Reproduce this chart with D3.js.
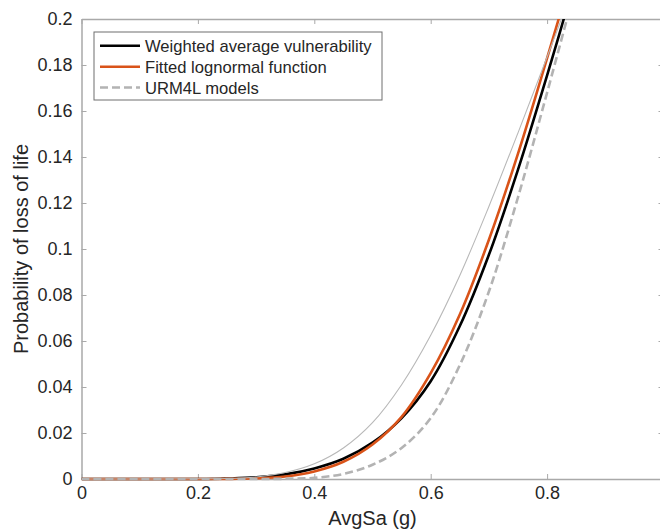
<!DOCTYPE html>
<html>
<head>
<meta charset="utf-8">
<script src="https://cdn.jsdelivr.net/npm/d3@7"></script>
<style>
  html, body { margin: 0; padding: 0; background: #fff; }
  svg { display: block; font-family: Helvetica, Arial, "Liberation Sans", sans-serif; }
</style>
</head>
<body>
<svg id="chart" width="660" height="530"></svg>
<script>
// Spectral acceleration grid (g)
const avgSa = [0, 0.1, 0.2, 0.25, 0.3, 0.35, 0.4, 0.45, 0.5, 0.55, 0.6, 0.65, 0.7, 0.75, 0.8, 0.85];

// Probability of loss of life for each curve
const weightedAvg     = [0, 0, 0, 0.0002, 0.0007, 0.0020, 0.0046, 0.0088, 0.0158, 0.0265, 0.0425, 0.0665, 0.0975, 0.1345, 0.1755, 0.2185];
const fittedLognormal = [0, 0, 0, 0.00005, 0.0003, 0.0011, 0.0033, 0.0075, 0.0150, 0.0270, 0.0460, 0.0715, 0.1040, 0.1415, 0.1830, 0.2260];
const urmModelA       = [0, 0, 0.0001, 0.0002, 0.0009, 0.0028, 0.0066, 0.0135, 0.0245, 0.0410, 0.0625, 0.0885, 0.1185, 0.1505, 0.1835, 0.2170];
const urmModelB       = [0, 0, 0, 0, 0, 0.0001, 0.0005, 0.0022, 0.0062, 0.0135, 0.0265, 0.0495, 0.0815, 0.1225, 0.1680, 0.2150];

const xTicks = [0, 0.2, 0.4, 0.6, 0.8];
const xTickLabels = ["0", "0.2", "0.4", "0.6", "0.8"];
const yTicks = [0, 0.02, 0.04, 0.06, 0.08, 0.1, 0.12, 0.14, 0.16, 0.18, 0.2];
const yTickLabels = ["0", "0.02", "0.04", "0.06", "0.08", "0.1", "0.12", "0.14", "0.16", "0.18", "0.2"];

const legendLabels = ["Weighted average vulnerability", "Fitted lognormal function", "URM4L models"];

const svg = d3.select("#chart");
const plotLeft = 81.5, plotRight = 663.5, plotTop = 19, plotBottom = 479;

const x = d3.scaleLinear().domain([0, 1]).range([plotLeft, plotRight]);
const y = d3.scaleLinear().domain([0, 0.2]).range([plotBottom, plotTop]);

const axisColor = "#a9a9a9";
const textColor = "#262626";

// Axes (ticks point inward on all four sides), drawn beneath the data
function styleAxis(g) {
  g.select(".domain").attr("stroke", axisColor).attr("stroke-width", 1.5);
  g.selectAll(".tick line").attr("stroke", axisColor).attr("stroke-width", 1);
  g.selectAll(".tick text").attr("fill", textColor).attr("font-size", 18)
    .attr("font-family", "Helvetica, Arial, 'Liberation Sans', sans-serif");
}

svg.append("g").attr("transform", `translate(0,${plotBottom})`)
  .call(d3.axisBottom(x).tickValues(xTicks).tickFormat((d, i) => xTickLabels[i]).tickSizeInner(-5).tickSizeOuter(0).tickPadding(7))
  .call(styleAxis);

svg.append("g").attr("transform", `translate(0,${plotTop})`)
  .call(d3.axisTop(x).tickValues(xTicks).tickFormat("").tickSizeInner(-5).tickSizeOuter(0))
  .call(styleAxis);

svg.append("g").attr("transform", `translate(${plotLeft},0)`)
  .call(d3.axisLeft(y).tickValues(yTicks).tickFormat((d, i) => yTickLabels[i]).tickSizeInner(-5).tickSizeOuter(0).tickPadding(9))
  .call(styleAxis);

svg.append("g").attr("transform", `translate(${plotRight},0)`)
  .call(d3.axisRight(y).tickValues(yTicks).tickFormat("").tickSizeInner(-5).tickSizeOuter(0))
  .call(styleAxis);

// Clip region for data lines
svg.append("defs").append("clipPath").attr("id", "plotClip")
  .append("rect").attr("x", plotLeft).attr("y", plotTop)
  .attr("width", plotRight - plotLeft).attr("height", plotBottom - plotTop + 4);

const line = d3.line()
  .x(d => x(d[0]))
  .y(d => y(Math.max(0, d[1])))
  .curve(d3.curveCatmullRom.alpha(0.5));

const series = [
  { values: weightedAvg, color: "#000000", width: 2.6, dash: null },
  { values: fittedLognormal, color: "#D95319", width: 2.6, dash: null },
  { values: urmModelA, color: "#b8b8b8", width: 1.1, dash: null },
  { values: urmModelB, color: "#b3b3b3", width: 2.6, dash: "8,4" }
];

const plot = svg.append("g").attr("clip-path", "url(#plotClip)");
series.forEach(s => {
  plot.append("path")
    .datum(avgSa.map((v, i) => [v, s.values[i]]))
    .attr("d", line)
    .attr("fill", "none")
    .attr("stroke", s.color)
    .attr("stroke-width", s.width)
    .attr("stroke-dasharray", s.dash);
});

// Axis titles
svg.append("text")
  .attr("x", (plotLeft + plotRight) / 2).attr("y", 525)
  .attr("text-anchor", "middle").attr("font-size", 20).attr("fill", textColor)
  .text("AvgSa (g)");

svg.append("text")
  .attr("transform", `translate(28,${(plotTop + plotBottom) / 2}) rotate(-90)`)
  .attr("text-anchor", "middle").attr("font-size", 20).attr("fill", textColor)
  .text("Probability of loss of life");

// Legend
const lg = svg.append("g");
lg.append("rect")
  .attr("x", 94).attr("y", 32).attr("width", 288).attr("height", 68)
  .attr("fill", "#fff").attr("stroke", "#6e6e6e").attr("stroke-width", 1);

const legendRows = [45.7, 66.7, 87.5];
legendLabels.forEach((lab, i) => {
  const s = series[i === 2 ? 3 : i];
  lg.append("line")
    .attr("x1", 100).attr("x2", 140).attr("y1", legendRows[i]).attr("y2", legendRows[i])
    .attr("stroke", s.color).attr("stroke-width", s.width).attr("stroke-dasharray", s.dash);
  lg.append("text")
    .attr("x", 145).attr("y", legendRows[i] + 6)
    .attr("font-size", 16.6).attr("fill", textColor)
    .text(lab);
});
</script>
</body>
</html>
